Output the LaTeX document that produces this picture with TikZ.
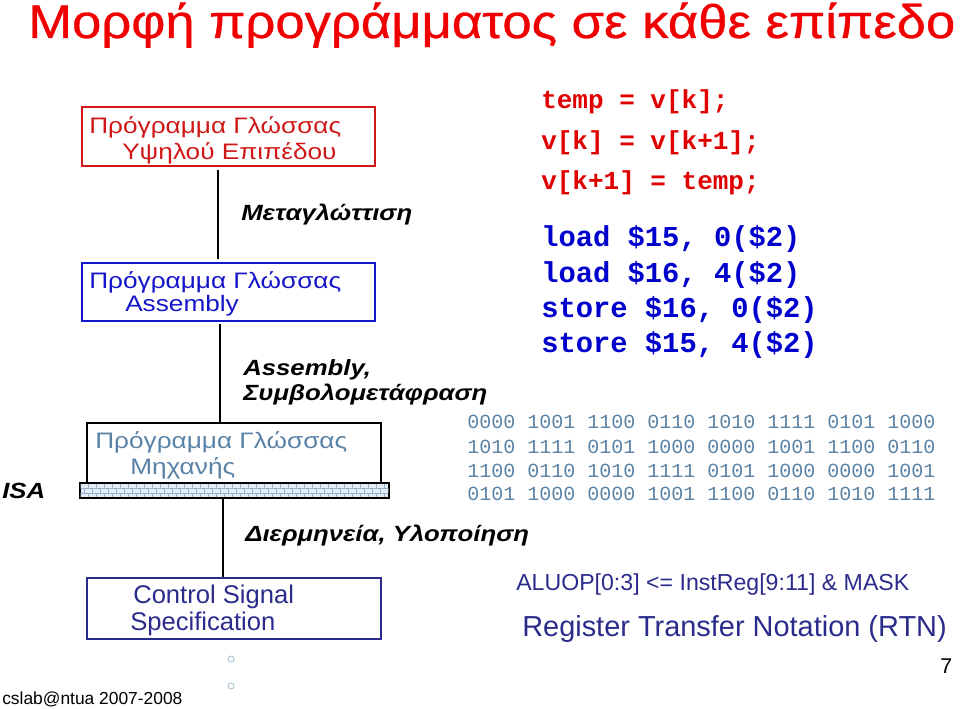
\documentclass[tikz,border=0pt]{standalone}
\usepackage{fontspec}
\setmainfont{Liberation Sans}
\setmonofont{Liberation Mono}
\newfontfamily\titlefont[FakeBold=0.6]{Liberation Sans}
\newfontfamily\widesans[FakeStretch=1.17]{Liberation Sans}
\usepackage{graphicx}
\definecolor{titlered}{HTML}{F00000}
\definecolor{boxred}{HTML}{D01818}
\definecolor{boxblue}{HTML}{1414C8}
\definecolor{codered}{HTML}{E00000}
\definecolor{codeblue}{HTML}{0000CC}
\definecolor{steel}{HTML}{5A82A6}
\definecolor{navy}{HTML}{2B2B8C}
\definecolor{brickfill}{HTML}{E4EDF6}
\definecolor{brickline}{HTML}{94B0CA}
\definecolor{dotcol}{HTML}{9CC0CC}
\tikzset{
  txt/.style={anchor=base west, inner sep=0pt},
  lvlbox/.style={draw, line width=1.5pt, minimum width=#1, inner sep=0pt},
  conn/.style={line width=1.3pt, black},
  lbl/.style={txt, font=\fontsize{16.5pt}{19pt}\widesans\bfseries\itshape},
  boxtxt/.style={txt, font=\fontsize{16.8pt}{19pt}\widesans},
  redcode/.style={txt, text=codered, font=\fontsize{19.5pt}{22pt}\selectfont\ttfamily\bfseries},
  bluecode/.style={txt, text=codeblue, font=\fontsize{21.6pt}{24pt}\selectfont\ttfamily\bfseries},
  bincode/.style={txt, text=steel, font=\fontsize{15pt}{18pt}\selectfont\ttfamily},
  ring/.style={circle, draw=dotcol, line width=0.6pt, minimum size=4.5pt, inner sep=0pt}
}
\begin{document}
\begin{tikzpicture}[x=0.75pt,y=-0.75pt]
\useasboundingbox (0,0) rectangle (960,709);
% title
\node[txt, text=titlered] (title) at (28,38) {\resizebox{695.25pt}{\height}{\fontsize{35.5pt}{40pt}\titlefont Μορφή προγράμματος σε κάθε επίπεδο}};
% boxes
\node[lvlbox=219.75pt, minimum height=44.25pt, draw=boxred] (hll) at (228.5,136.5) {};
\node[lvlbox=219.75pt, minimum height=43.5pt, draw=boxblue] (asm) at (228.5,292) {};
\node[lvlbox=220.5pt, minimum height=45pt, draw=black] (mach) at (234,453) {};
\node[draw=black, line width=1pt, fill=brickfill, minimum width=231.75pt, minimum height=11.25pt, inner sep=0pt] (brick) at (234.5,490.5) {};
\begin{scope}
\clip (80.7,483.7) rectangle (388.3,497.3);
\foreach \yy in {488.3,492.9} \draw[brickline, line width=0.6pt] (80,\yy) -- (389,\yy);
\foreach \xx in {80,88,...,392} {
  \draw[brickline, line width=0.6pt] (\xx,483.7) -- (\xx,488.3);
  \draw[brickline, line width=0.6pt] (\xx+4,488.3) -- (\xx+4,492.9);
  \draw[brickline, line width=0.6pt] (\xx,492.9) -- (\xx,497.3);
}
\end{scope}
\node[lvlbox=220.5pt, minimum height=45.75pt, draw=navy] (ctrl) at (234,608.5) {};
% connectors
\coordinate (x1) at (218,0);
\coordinate (x2) at (220,0);
\coordinate (x3) at (223,0);
\draw[conn] ([yshift=-2.25pt]hll.south -| x1) -- ([yshift=2.25pt]asm.north -| x1);
\draw[conn] ([yshift=-1.5pt]asm.south -| x2) -- (mach.north -| x2);
\draw[conn] (brick.south -| x3) -- (ctrl.north -| x3);
% box texts
\node[boxtxt, text=boxred] (hll1) at (89,134) {Πρόγραμμα Γλώσσας};
\node[boxtxt, text=boxred] (hll2) at (122,160) {Υψηλού Επιπέδου};
\node[boxtxt, text=boxblue] (asm1) at (89,289) {Πρόγραμμα Γλώσσας};
\node[boxtxt, text=boxblue] (asm2) at (125,311) {Assembly};
\node[boxtxt, text=steel] (mach1) at (95,448) {Πρόγραμμα Γλώσσας};
\node[boxtxt, text=steel] (mach2) at (130,474) {Μηχανής};
\node[txt, text=navy, font=\fontsize{19.2pt}{22pt}\selectfont] (ctrl1) at (133,603) {Control Signal};
\node[txt, text=navy, font=\fontsize{19.2pt}{22pt}\selectfont] (ctrl2) at (130,630) {Specification};
% labels
\node[lbl] (comp) at (241,221) {Μεταγλώττιση};
\node[lbl] (assm1) at (243,375) {Assembly,};
\node[lbl] (assm2) at (243,400) {Συμβολομετάφραση};
\node[lbl] (interp) at (245,541) {Διερμηνεία, Υλοποίηση};
\node[lbl] (isa) at (2,498) {ISA};
% code
\node[redcode] (c1) at (541,109) {temp = v[k];};
\node[redcode] (c2) at (541,150) {v[k] = v[k+1];};
\node[redcode] (c3) at (541,190) {v[k+1] = temp;};
\node[bluecode] (a1) at (541,247) {load \$15, 0(\$2)};
\node[bluecode] (a2) at (541,282) {load \$16, 4(\$2)};
\node[bluecode] (a3) at (541,317) {store \$16, 0(\$2)};
\node[bluecode] (a4) at (541,352) {store \$15, 4(\$2)};
\node[bincode] (b1) at (467,428) {0000 1001 1100 0110 1010 1111 0101 1000};
\node[bincode] (b2) at (467,453) {1010 1111 0101 1000 0000 1001 1100 0110};
\node[bincode] (b3) at (467,477) {1100 0110 1010 1111 0101 1000 0000 1001};
\node[bincode] (b4) at (467,500) {0101 1000 0000 1001 1100 0110 1010 1111};
% RTN
\node[txt, text=navy, font=\fontsize{17.35pt}{20pt}\selectfont] (alu) at (516,590) {ALUOP[0:3] <= InstReg[9:11] \& MASK};
\node[txt, text=navy, font=\fontsize{21.7pt}{25pt}\selectfont] (rtn) at (522,636) {Register Transfer Notation (RTN)};
% footer
\node[ring] (d1) at (231,659) {};
\node[ring] (d2) at (231,686) {};
\node[txt, font=\fontsize{13.05pt}{16pt}\selectfont] (foot) at (2,704) {cslab@ntua 2007-2008};
\node[txt, font=\fontsize{16pt}{18pt}\selectfont] (pg) at (940,673) {7};
\end{tikzpicture}
\end{document}
